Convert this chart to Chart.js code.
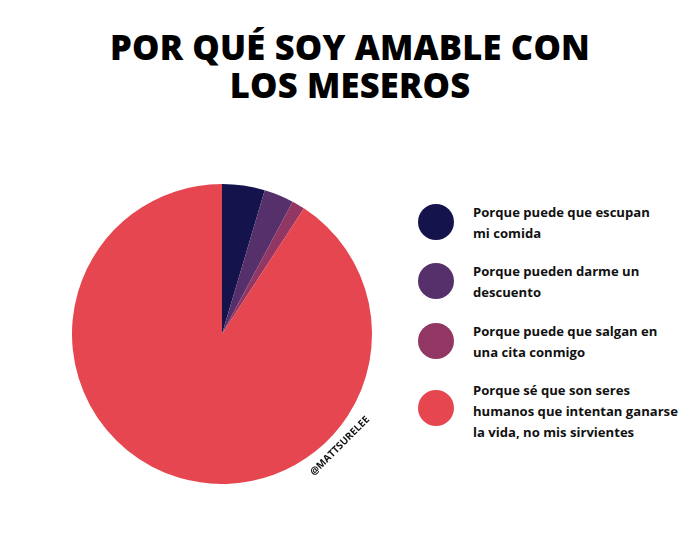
<!DOCTYPE html>
<html>
<head>
<meta charset="utf-8">
<script src="https://cdn.jsdelivr.net/npm/chart.js@4/dist/chart.umd.min.js"></script>
<style>
  html, body { margin: 0; padding: 0; background: #fff; }
  body { width: 700px; height: 560px; position: relative; overflow: hidden; font-family: "Open Sans", "DejaVu Sans", sans-serif; }
  #title { position: absolute; left: 0; top: 28px; width: 700px; text-align: center; font-weight: 800; font-size: 34.5px; line-height: 38px; color: #000; letter-spacing: 0.2px; }
  #wrap { position: absolute; left: 72px; top: 184px; width: 300px; height: 300px; }
  #legend { position: absolute; left: 418px; top: 0; }
  .dot { position: absolute; left: 0; width: 36px; height: 36px; border-radius: 50%; }
  .txt { position: absolute; left: 55px; font-weight: 700; font-size: 13.1px; line-height: 21px; color: #111; white-space: nowrap; }
</style>
</head>
<body>
<div id="title">POR QUÉ SOY AMABLE CON<br>LOS MESEROS</div>
<div id="wrap"><canvas id="pie"></canvas></div>
<div id="legend"></div>
<script>
const labels = [
  ['Porque puede que escupan', 'mi comida'],
  ['Porque pueden darme un', 'descuento'],
  ['Porque puede que salgan en', 'una cita conmigo'],
  ['Porque sé que son seres', 'humanos que intentan ganarse', 'la vida, no mis sirvientes']
];
const values = [4.6, 3.2, 1.4, 90.8];
const colors = ['#15134b', '#56306a', '#923663', '#e5464f'];
const credit = '@MATTSURELEE';

// legend rows (dot centre y, text top y)
const dotY = [222, 281, 341, 408];
const txtY = [202, 261, 321, 380];
const legend = document.getElementById('legend');
labels.forEach((lines, i) => {
  const dot = document.createElement('div');
  dot.className = 'dot';
  dot.style.top = (dotY[i] - 18) + 'px';
  dot.style.background = colors[i];
  legend.appendChild(dot);
  const t = document.createElement('div');
  t.className = 'txt';
  t.style.top = txtY[i] + 'px';
  t.innerHTML = lines.join('<br>');
  legend.appendChild(t);
});

// small credit written along the lower right edge of the pie
const creditPlugin = {
  id: 'credit',
  afterDraw(chart) {
    const c = chart.ctx;
    c.save();
    c.translate(242, 292);
    c.rotate(-45 * Math.PI / 180);
    c.font = 'bold 10px "Open Sans", sans-serif';
    c.fillStyle = '#111';
    c.textBaseline = 'alphabetic';
    c.fillText(credit, 0, 0);
    c.restore();
  }
};

new Chart(document.getElementById('pie'), {
  type: 'pie',
  data: {
    labels: labels.map(l => l.join(' ')),
    datasets: [{
      data: values,
      backgroundColor: colors,
      borderWidth: 0
    }]
  },
  options: {
    responsive: true,
    maintainAspectRatio: false,
    animation: false,
    layout: { padding: 0 },
    plugins: {
      legend: { display: false },
      tooltip: { enabled: false }
    }
  },
  plugins: [creditPlugin]
});
</script>
</body>
</html>
